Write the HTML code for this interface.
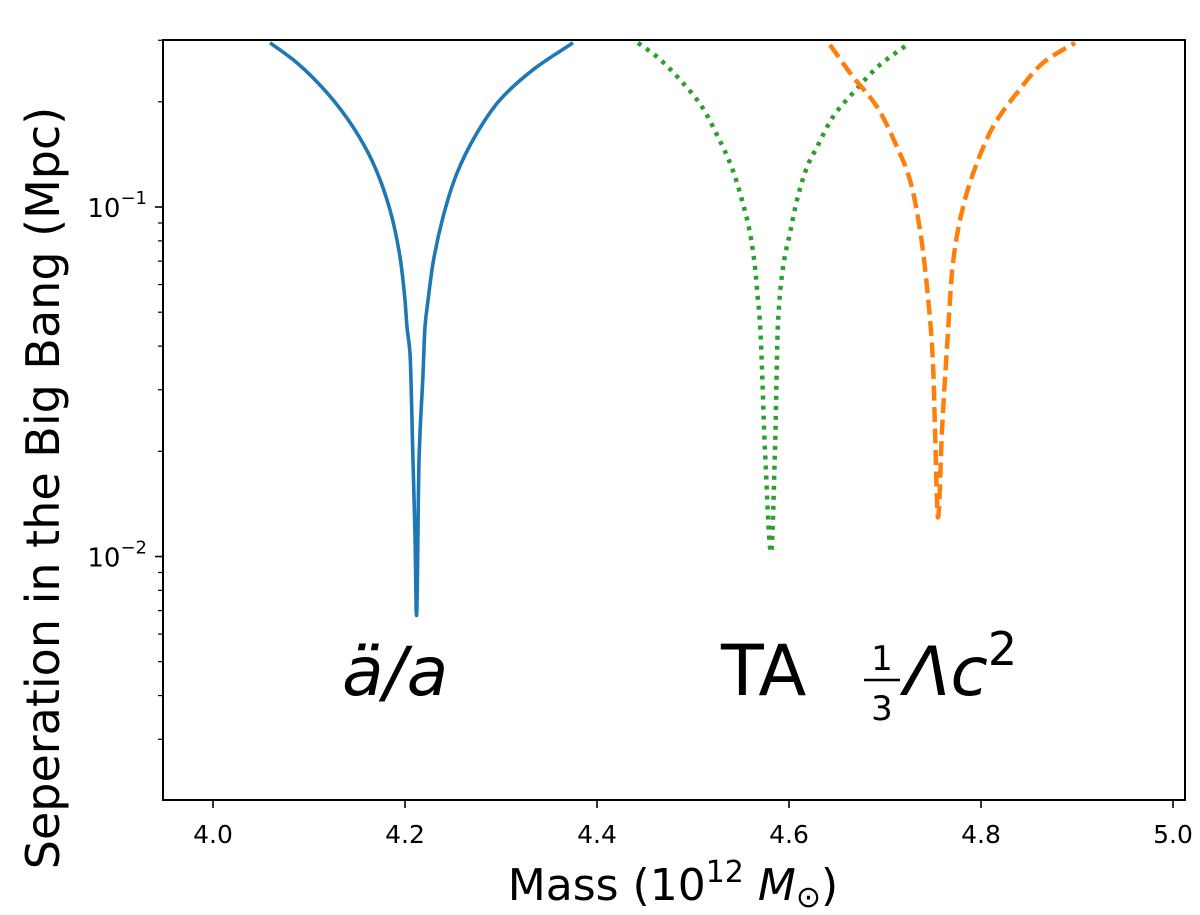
<!DOCTYPE html>
<html><head><meta charset="utf-8"><style>
body{margin:0;background:#fff}
svg text{font-family:"DejaVu Sans","Liberation Sans",sans-serif;fill:#000}
</style></head><body>
<svg id="chart" width="1200" height="910" viewBox="0 0 1200 910">
<defs><clipPath id="clip"><rect x="163" y="40" width="1022" height="760"/></clipPath></defs>
<g id="series" clip-path="url(#clip)"></g>
<rect x="163" y="40" width="1022" height="760" fill="none" stroke="#000" stroke-width="2"/>
<g id="axes"></g>
<text x="0" y="0" font-size="46" text-anchor="middle" transform="translate(59,488) rotate(-90)">Seperation in the Big Bang (Mpc)</text>
<text x="673" y="900" font-size="44" text-anchor="middle">Mass (10<tspan font-size="30" dy="-18">12</tspan><tspan dy="18"> </tspan><tspan font-style="italic">M</tspan><tspan font-size="30" dy="7">⊙</tspan><tspan dy="-7">)</tspan></text>
<text x="342" y="695" font-size="68" font-style="italic">ä/a</text>
<text x="721" y="695" font-size="70">TA</text>
<g>
<text x="882" y="670" font-size="34" text-anchor="middle">1</text>
<line x1="864" y1="680" x2="900" y2="680" stroke="#000" stroke-width="2.5"/>
<text x="882" y="720" font-size="34" text-anchor="middle">3</text>
<text x="904" y="695" font-size="68" font-style="italic">Λc<tspan font-size="46" dy="-30" font-style="normal">2</tspan></text>
</g>
</svg>
<script>
const blueM=[4.0594,4.0875,4.1188,4.1458,4.1667,4.1844,4.1948,4.2,4.2021,4.2052,4.2083,4.2104,4.212,4.2146,4.2188,4.2208,4.224,4.2292,4.2396,4.2542,4.275,4.299,4.3333,4.375];
const blueV=[0.295,0.2585,0.2121,0.1695,0.1337,0.098,0.0719,0.0541,0.0453,0.0382,0.01884,0.01164,0.00678,0.01884,0.0334,0.0453,0.0541,0.0691,0.0936,0.1251,0.1629,0.2026,0.2469,0.295];
const greenM=[4.4427,4.4625,4.4865,4.5094,4.526,4.5406,4.551,4.5594,4.5646,4.5677,4.5698,4.575,4.5813,4.5854,4.5885,4.5938,4.601,4.6083,4.6188,4.6292,4.6458,4.6667,4.6948,4.7229];
const greenV=[0.295,0.269,0.2312,0.1934,0.1587,0.1293,0.1047,0.0842,0.0673,0.0541,0.0465,0.0201,0.01027,0.0201,0.0465,0.0673,0.0842,0.1047,0.1302,0.1485,0.1811,0.2121,0.2551,0.291];
const orangeM=[4.6427,4.6667,4.6917,4.7125,4.726,4.7365,4.7448,4.75,4.7521,4.7552,4.7594,4.7646,4.7708,4.7813,4.7958,4.8125,4.8375,4.8646,4.8979];
const orangeV=[0.291,0.2358,0.1934,0.1485,0.1195,0.0859,0.0552,0.0357,0.023,0.01293,0.023,0.0397,0.0691,0.1,0.1337,0.1695,0.2121,0.2585,0.295];
const xTicks=[4.0,4.2,4.4,4.6,4.8,5.0];
const xTickLabels=["4.0","4.2","4.4","4.6","4.8","5.0"];
const yMajor=[0.1,0.01];
const yMajorExp=["−1","−2"];
const NS="http://www.w3.org/2000/svg";
function xs(m){return 213+(m-4)*960;}
function ys(v){return 207-(Math.log10(v)+1)*349.5;}
const S=document.getElementById('series'), A=document.getElementById('axes');
function mk(tag,attrs,parent){const e=document.createElementNS(NS,tag);for(const k in attrs)e.setAttribute(k,attrs[k]);parent.appendChild(e);return e;}
function monotonePath(X,Y){
  const n=X.length;const d=[],m=[];
  for(let i=0;i<n-1;i++)d.push((Y[i+1]-Y[i])/(X[i+1]-X[i]));
  m[0]=d[0];m[n-1]=d[n-2];
  for(let i=1;i<n-1;i++){m[i]=(d[i-1]*d[i]<=0)?0:3*(X[i+1]-X[i-1])/((2*X[i+1]-X[i]-X[i-1])/d[i-1]+(X[i+1]+X[i]-2*X[i-1])/d[i]);}
  let p='M'+X[0].toFixed(2)+','+Y[0].toFixed(2);
  for(let i=0;i<n-1;i++){const h=(X[i+1]-X[i])/3;
    p+=' C'+(X[i]+h).toFixed(2)+','+(Y[i]+m[i]*h).toFixed(2)+' '+(X[i+1]-h).toFixed(2)+','+(Y[i+1]-m[i+1]*h).toFixed(2)+' '+X[i+1].toFixed(2)+','+Y[i+1].toFixed(2);}
  return p;
}
function line(M,V,color,dash,width,name){
  const d=monotonePath(M.map(xs),V.map(ys));
  const p=mk('path',{d:d,fill:'none',stroke:color,'stroke-width':width,'stroke-dasharray':dash,'stroke-linejoin':'round'},S);
  
  
}
line(blueM,blueV,'#1f77b4','none',3.6,'series-accel-line');
line(greenM,greenV,'#2ca02c','4,6',4.5,'series-ta-line');
line(orangeM,orangeV,'#ff7f0e','15,6.5',4.5,'series-lambda-line');
xTicks.forEach((t,i)=>{
  const x=xs(t);
  const l=mk('line',{x1:x,x2:x,y1:800,y2:808,stroke:'#000','stroke-width':1.6},A);
  
  
  const tx=mk('text',{x:x,y:843,'font-size':25,'text-anchor':'middle'},A);
  tx.textContent=xTickLabels[i];
  
  
});
yMajor.forEach((v,i)=>{
  const y=ys(v);
  const l=mk('line',{x1:155,x2:163,y1:y,y2:y,stroke:'#000','stroke-width':1.6},A);
  
  
  const tx=mk('text',{x:147,y:y+10,'font-size':26,'text-anchor':'end'},A);
  tx.innerHTML='10<tspan font-size="18" dy="-13">'+yMajorExp[i]+'</tspan>';
  
  
});
[0.001,0.01,0.1].forEach(b=>{for(let k=2;k<=9;k++){const v=b*k;const y=ys(v);if(y<40||y>800)continue;
  const l=mk('line',{x1:158,x2:163,y1:y,y2:y,stroke:'#000','stroke-width':1.2},A);
  
  
}});
</script>
</body></html>
